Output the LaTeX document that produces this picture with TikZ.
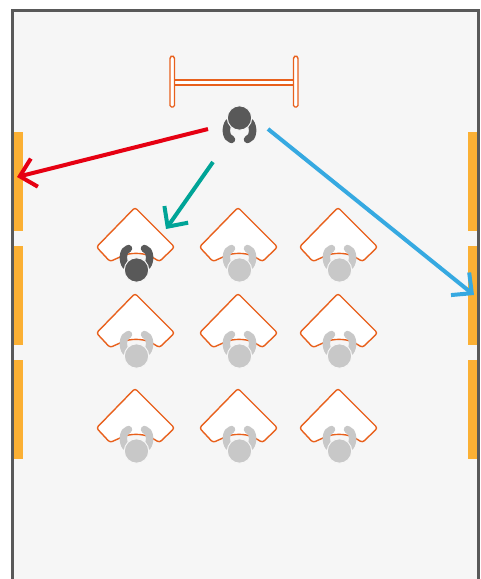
\documentclass[tikz,border=0pt]{standalone}
\usetikzlibrary{arrows.meta}
\definecolor{floorgray}{HTML}{F6F6F6}
\definecolor{wallgray}{HTML}{595959}
\definecolor{seatgray}{HTML}{C8C8C8}
\definecolor{windowyellow}{HTML}{FBB034}
\definecolor{deskorange}{HTML}{E8601C}
\definecolor{arrowred}{HTML}{E60012}
\definecolor{arrowteal}{HTML}{00A497}
\definecolor{arrowblue}{HTML}{36A9E1}
\tikzset{
  window/.style={fill=windowyellow, draw=none},
  furniture/.style={draw=deskorange, fill=white, line width=1.4pt, line join=round},
  look/.style={line width=4pt, -{Straight Barb[length=15pt,width=29pt]}},
  pics/desk/.style={code={
    \draw[furniture, rounded corners=2.5pt] (-1,-62.5) -- (38.5,-23) -- (23.5,-8.5)
      -- (16,-13) .. controls (6,-17.5) and (-6,-17.5) .. (-16,-13)
      -- (-26,-8.5) -- (-39.5,-23) -- cycle;
  }},
  pics/person/.style={code={
    \draw[#1, line width=7.5pt, line cap=round] (-8,-21.5) .. controls (-14,-20) and (-14.5,-9) .. (-10.5,-4);
    \draw[#1, line width=7.5pt, line cap=round] (8,-21.5) .. controls (14,-20) and (14.5,-9) .. (10.5,-4);
    \fill[#1, draw=floorgray, line width=1pt] (0,0) circle (12.2pt);
  }},
}
\begin{document}
\begin{tikzpicture}[x=1pt, y=-1pt]
  \useasboundingbox[clip] (0,0) rectangle (480,579);

  % room
  \fill[floorgray] (12.5,10.5) rectangle (478.5,585);
  \fill[window] (14,132) rectangle (23,231);
  \fill[window] (14,246) rectangle (23,345);
  \fill[window] (14,360) rectangle (23,459);
  \fill[window] (468,132) rectangle (477,231);
  \fill[window] (468,246) rectangle (477,345);
  \fill[window] (468,360) rectangle (477,459);
  \draw[wallgray, line width=3pt] (12.5,585) -- (12.5,10.5) -- (478.5,10.5) -- (478.5,585);

  % teacher desk
  \draw[furniture] (174.5,80) rectangle (293.5,85);
  \draw[furniture, rounded corners=1.5pt] (170,107) -- (170,57) -- (172.2,55.5) -- (174.5,57) -- (174.5,107) -- cycle;
  \draw[furniture, rounded corners=1.5pt] (293.5,107) -- (293.5,57) -- (295.7,55.5) -- (298,57) -- (298,107) -- cycle;
  \pic[rotate=180] at (239.5,118) {person=wallgray};

  % students
  \pic at (136,270) {desk};
  \pic at (239,270) {desk};
  \pic at (339,270) {desk};
  \pic at (136,356) {desk};
  \pic at (239,356) {desk};
  \pic at (339,356) {desk};
  \pic at (136,451) {desk};
  \pic at (239,451) {desk};
  \pic at (339,451) {desk};
  \pic at (136.5,270) {person=wallgray};
  \pic at (239.5,270) {person=seatgray};
  \pic at (339.5,270) {person=seatgray};
  \pic at (136.5,356) {person=seatgray};
  \pic at (239.5,356) {person=seatgray};
  \pic at (339.5,356) {person=seatgray};
  \pic at (136.5,451) {person=seatgray};
  \pic at (239.5,451) {person=seatgray};
  \pic at (339.5,451) {person=seatgray};

  % what the teacher looks at
  \coordinate (redstart) at (208,129);
  \coordinate (redend) at (17,177);
  \coordinate (tealstart) at (213,162);
  \coordinate (tealend) at (166,229);
  \coordinate (bluestart) at (268,129);
  \coordinate (blueend) at (474,295);
  \draw[look, arrowred] (redstart) -- (redend);
  \draw[look, arrowteal] (tealstart) -- (tealend);
  \draw[look, arrowblue] (bluestart) -- (blueend);
\end{tikzpicture}
\end{document}
